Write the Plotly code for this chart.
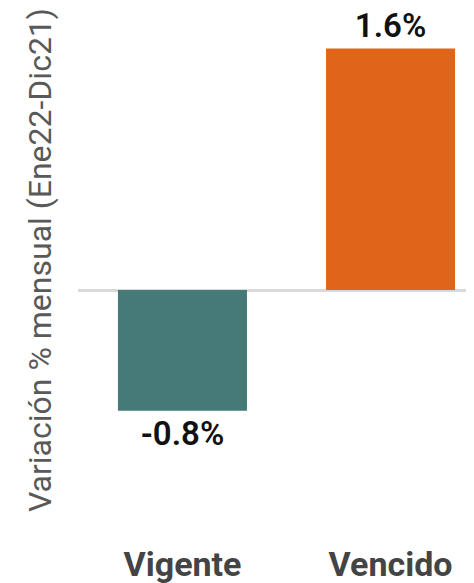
import plotly.graph_objects as go

categories = ["Vigente", "Vencido"]
values = [-0.8, 1.6]
labels = ["-0.8%", "1.6%"]
colors = ["#467a79", "#e06519"]
y_title = "Variación % mensual (Ene22-Dic21)"

fig = go.Figure(go.Bar(
    x=categories, y=values, text=labels, textposition="outside",
    marker=dict(color=colors, line=dict(width=0)), width=0.62,
    textfont=dict(family="Roboto", size=33, color="#111111", weight=600),
    cliponaxis=False,
))

fig.update_layout(
    width=466, height=575,
    margin=dict(l=70, r=0, t=0, b=42),
    paper_bgcolor="white", plot_bgcolor="white",
    showlegend=False,
    font=dict(family="Roboto"),
    xaxis=dict(range=[-0.502, 1.401], showgrid=False, showline=False, ticks="",
               tickfont=dict(family="Roboto", size=34, color="#444444", weight="bold")),
    yaxis=dict(range=[-1.662, 1.868], showgrid=False, showticklabels=False, ticks="",
               zeroline=True, zerolinecolor="#d9d9d9", zerolinewidth=3),
    annotations=[dict(text=y_title, textangle=-90, showarrow=False,
                      xref="paper", yref="paper", x=-0.096, y=0.527,
                      xanchor="center", yanchor="middle",
                      font=dict(family="Roboto", size=32, color="#595959"))],
)

fig.write_html("out.html")
